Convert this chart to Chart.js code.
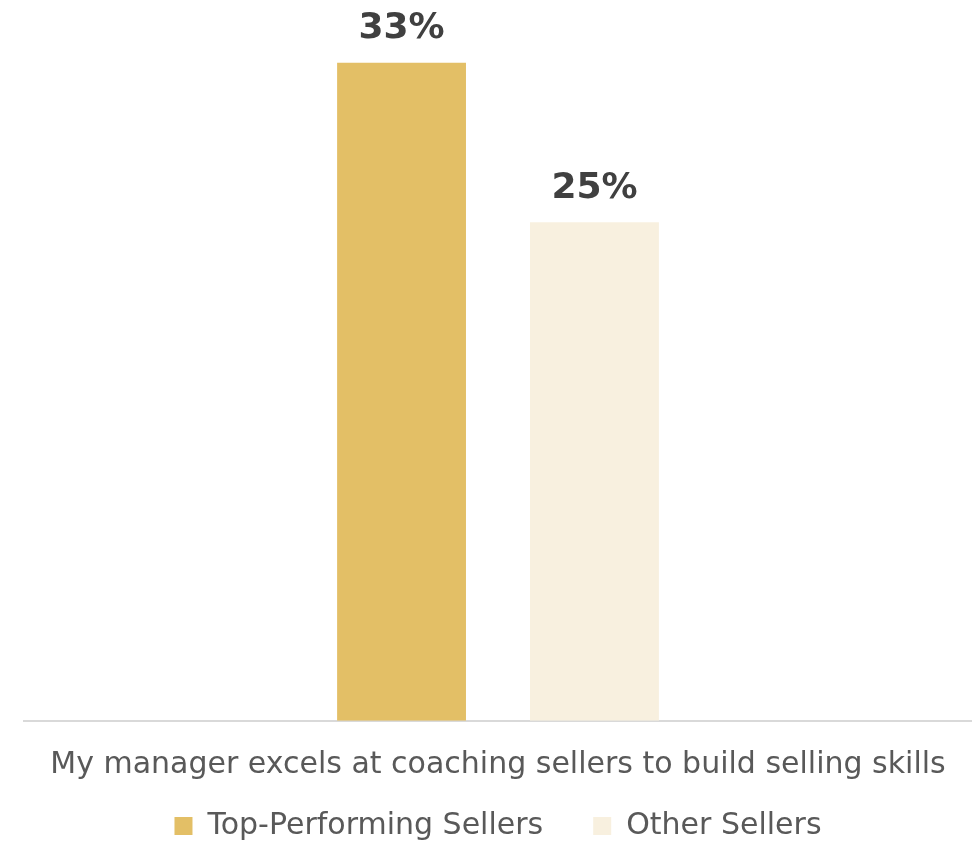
<!DOCTYPE html>
<html lang="en">

<head>
    <meta charset="UTF-8">
    <title>Manager Coaching</title>
    <style>
        html, body { margin: 0; padding: 0; background: #ffffff; }
        #chartBox { width: 972px; height: 843px; }
    </style>
</head>

<body>
<div id="chartBox">
    <canvas id="coachingChart" width="972" height="843"></canvas>
</div>

<script src="https://cdn.jsdelivr.net/npm/chart.js"></script>

<script>
    // survey statement on the x axis
    const categories = ['My manager excels at coaching sellers to build selling skills'];

    // share of each group who agreed (%)
    const seriesNames = ['Top-Performing Sellers', 'Other Sellers'];
    const topPerformers = [33];
    const otherSellers = [25];

    const seriesColors = ['#E3BF66', '#F8F0DF'];

    // draws the "33%" style value above each bar
    const valueLabels = {
        id: 'valueLabels',
        afterDatasetsDraw(chart) {
            const ctx = chart.ctx;
            ctx.save();
            ctx.font = 'bold 36px "DejaVu Sans", sans-serif';
            ctx.fillStyle = '#404040';
            ctx.textAlign = 'center';
            ctx.textBaseline = 'bottom';
            chart.data.datasets.forEach((ds, i) => {
                chart.getDatasetMeta(i).data.forEach((bar, j) => {
                    ctx.fillText(ds.data[j] + '%', bar.x, bar.y - 16);
                });
            });
            ctx.restore();
        }
    };

    const ctx = document.getElementById('coachingChart').getContext('2d');
    const chart = new Chart(ctx, {
        type: 'bar',
        data: {
            labels: categories,
            datasets: [{
                label: seriesNames[0],
                data: topPerformers,
                backgroundColor: seriesColors[0]
            }, {
                label: seriesNames[1],
                data: otherSellers,
                backgroundColor: seriesColors[1]
            }]
        },
        options: {
            responsive: false,
            animation: false,
            categoryPercentage: 0.407,
            barPercentage: 0.668,
            layout: {
                padding: { top: 23, left: 24, right: 0, bottom: -8 }
            },
            scales: {
                x: {
                    grid: { display: false, drawTicks: false },
                    border: { display: true, color: '#D9D9D9', width: 2 },
                    ticks: {
                        color: '#595959',
                        padding: 26,
                        font: { family: '"DejaVu Sans", sans-serif', size: 30 }
                    },
                    // only reserve room for the label itself, not padding below it
                    afterFit(scale) {
                        scale.height = 64;
                    }
                },
                y: {
                    display: false,
                    min: 0,
                    max: 35
                }
            },
            plugins: {
                legend: {
                    position: 'bottom',
                    // empty title with negative padding pulls the legend row up
                    // so the wide item gap doesn't push the chart upwards
                    title: {
                        display: true,
                        text: ' ',
                        font: { size: 1 },
                        padding: { top: 0, bottom: -25 }
                    },
                    labels: {
                        color: '#595959',
                        boxWidth: 18,
                        boxHeight: 18,
                        padding: 50,
                        font: { family: '"DejaVu Sans", sans-serif', size: 30 }
                    }
                },
                tooltip: { enabled: false }
            }
        },
        plugins: [valueLabels]
    });
</script>
</body>
</html>
